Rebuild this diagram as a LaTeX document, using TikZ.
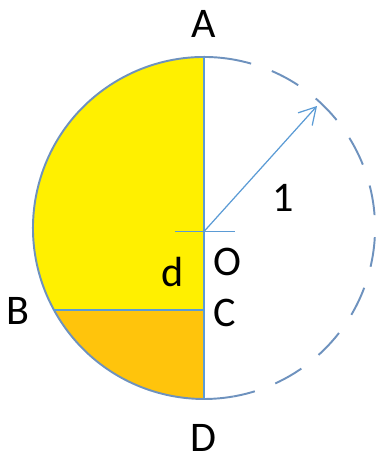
\documentclass[tikz,border=0pt]{standalone}
\usepackage{fontspec}
\setmainfont{Carlito}
\usetikzlibrary{arrows.meta,calc}
\definecolor{cyellow}{RGB}{255,240,0}
\definecolor{corange}{RGB}{255,196,12}
\definecolor{crim}{RGB}{110,146,190}
\definecolor{cline}{RGB}{91,155,213}
\tikzset{
  lbl/.style={anchor=base,inner sep=0pt,font=\fontsize{24}{28}\selectfont},
  rim/.style={draw=crim,line width=1.1pt},
}

\begin{document}
\begin{tikzpicture}[x=0.02cm,y=0.02cm]
    \useasboundingbox (0,0) rectangle (376,461);
    \coordinate (ctr) at (204,233);
    \coordinate (A) at (204,404);
    \coordinate (D) at (204,62);
    \coordinate (C) at (204,151);
    \coordinate (B) at ($(ctr)+(208.65:171)$);
    \coordinate (O) at (204,229.5);
    \coordinate (P) at (317,355);
    \coordinate (tl) at (175,229.5);
    \coordinate (tr) at (235,229.5);
    % segments
    \fill[cyellow] (A) arc (90:208.65:171) -- (C) -- cycle;
    \fill[corange] (B) arc (208.65:270:171) -- (C) -- cycle;
    \draw[rim] ($(ctr)+(74:171)$) arc (74:280:171);
    \draw[rim,dash pattern=on 0.6cm off 0.44cm,dash phase=0.6cm] ($(ctr)+(74:171)$) arc (74:-80:171);
    \draw[cline,line width=0.9pt] (C) -- (B);
    \draw[cline,line width=0.9pt] (A) -- (D);
    \draw[cline,line width=0.7pt] (tl) -- (tr);
    \draw[cline,line width=0.7pt,-{Straight Barb[length=3.3mm,width=3.8mm]}] (O) -- (P);
    % labels
    \node[lbl] (la) at (204,423.7) {A};
    \node[lbl] (ld) at (203,10) {D};
    \node[lbl] (lb) at (17.5,136) {B};
    \node[lbl] (lc) at (225,134) {C};
    \node[lbl] (lo) at (227,186) {O};
    \node[lbl] (ldd) at (173,174) {d};
    \node[lbl] (lone) at (283,249.3) {1};
\end{tikzpicture}
\end{document}
